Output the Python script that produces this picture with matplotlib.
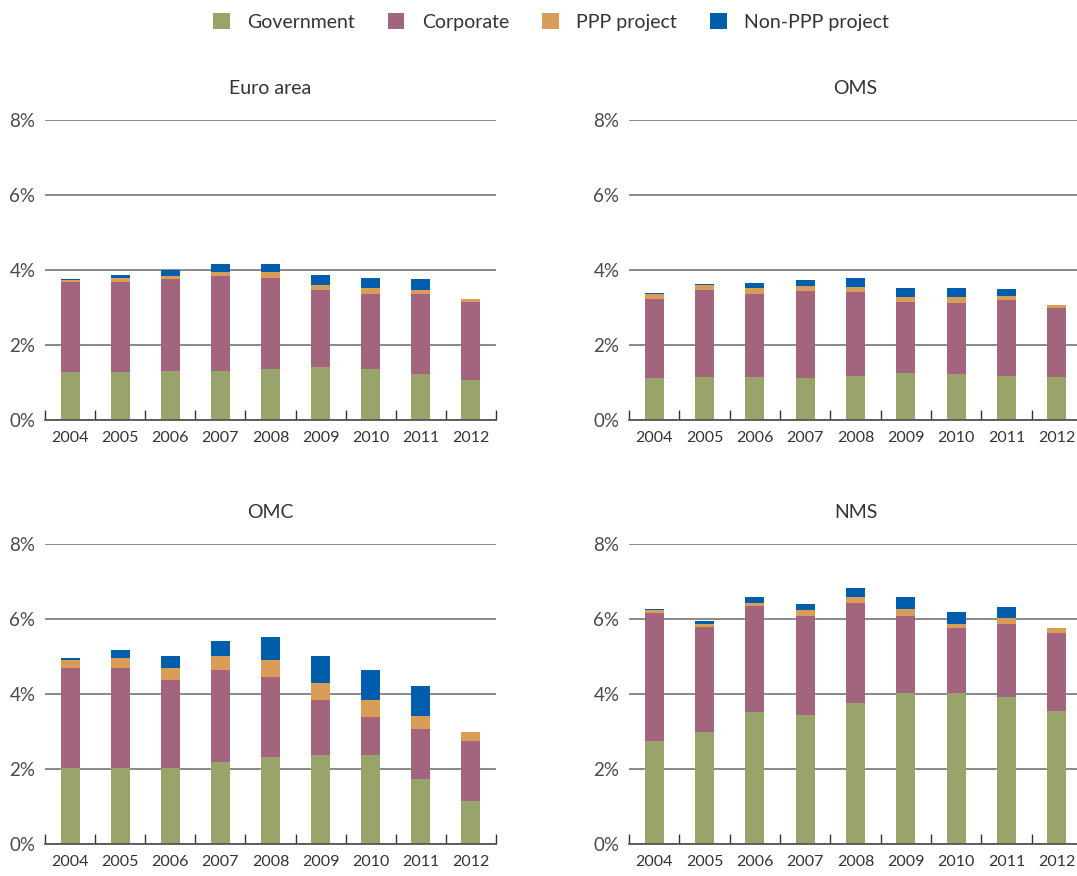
import matplotlib
matplotlib.use("Agg")
import matplotlib.pyplot as plt
import numpy as np
from matplotlib.patches import Patch
from matplotlib.ticker import FixedLocator

plt.rcParams['font.family'] = ['Lato', 'DejaVu Sans']

years = ["2004", "2005", "2006", "2007", "2008", "2009", "2010", "2011", "2012"]
series_names = ["Government", "Corporate", "PPP project", "Non-PPP project"]
colors = ["#98A46A", "#A3657D", "#D99D58", "#005EAD"]

euro_gov = [1.28, 1.28, 1.30, 1.30, 1.36, 1.41, 1.36, 1.22, 1.06]
euro_corp = [2.41, 2.41, 2.47, 2.55, 2.44, 2.07, 2.01, 2.13, 2.10]
euro_ppp = [0.05, 0.11, 0.08, 0.11, 0.16, 0.13, 0.14, 0.13, 0.08]
euro_non = [0.03, 0.06, 0.15, 0.19, 0.21, 0.27, 0.29, 0.27, 0.00]

oms_gov = [1.12, 1.14, 1.14, 1.12, 1.17, 1.25, 1.22, 1.17, 1.14]
oms_corp = [2.12, 2.34, 2.23, 2.33, 2.25, 1.91, 1.91, 2.02, 1.86]
oms_ppp = [0.11, 0.13, 0.16, 0.13, 0.14, 0.13, 0.14, 0.13, 0.08]
oms_non = [0.03, 0.03, 0.13, 0.16, 0.24, 0.24, 0.26, 0.18, 0.00]

omc_gov = [2.03, 2.03, 2.03, 2.19, 2.32, 2.37, 2.37, 1.73, 1.15]
omc_corp = [2.66, 2.66, 2.34, 2.45, 2.13, 1.47, 1.02, 1.34, 1.60]
omc_ppp = [0.22, 0.27, 0.32, 0.37, 0.46, 0.45, 0.45, 0.34, 0.24]
omc_non = [0.05, 0.21, 0.32, 0.40, 0.61, 0.72, 0.80, 0.80, 0.00]

nms_gov = [2.74, 3.00, 3.51, 3.43, 3.75, 4.02, 4.02, 3.91, 3.56]
nms_corp = [3.41, 2.78, 2.83, 2.64, 2.67, 2.05, 1.73, 1.97, 2.08]
nms_ppp = [0.08, 0.10, 0.10, 0.16, 0.16, 0.19, 0.13, 0.14, 0.11]
nms_non = [0.03, 0.08, 0.14, 0.16, 0.26, 0.34, 0.32, 0.29, 0.00]

panels = [
    ("Euro area", [euro_gov, euro_corp, euro_ppp, euro_non]),
    ("OMS", [oms_gov, oms_corp, oms_ppp, oms_non]),
    ("OMC", [omc_gov, omc_corp, omc_ppp, omc_non]),
    ("NMS", [nms_gov, nms_corp, nms_ppp, nms_non]),
]

W, H = 1077, 876
fig = plt.figure(figsize=(W / 100, H / 100), dpi=100)

# pixel rects: left, bottom(of 0%), width, height
rects = [
    (45, 420, 451, 300),
    (629, 420, 453, 300),
    (45, 844, 451, 300),
    (629, 844, 453, 300),
]

text_color = "#4a4a4a"
x = np.arange(len(years))
for (title, data), (l, b, w, h) in zip(panels, rects):
    ax = fig.add_axes([l / W, (H - b) / H, w / W, h / H])
    bottom = np.zeros(len(years))
    for vals, c in zip(data, colors):
        vals = np.array(vals)
        ax.bar(x, vals, width=0.38, bottom=bottom, color=c, linewidth=0, zorder=3)
        bottom += vals
    ax.set_xlim(-0.5, len(years) - 0.5)
    ax.set_ylim(0, 8)
    ax.set_yticks([0, 2, 4, 6, 8])
    ax.set_yticklabels(["0%", "2%", "4%", "6%", "8%"], fontsize=13.5, color=text_color)
    ax.set_xticks(x)
    ax.set_xticklabels(years, fontsize=11.5, color="#333333")
    ax.tick_params(axis='x', which='major', length=0, pad=8)
    ax.tick_params(axis='y', length=0, pad=7)
    ax.xaxis.set_minor_locator(FixedLocator(np.arange(-0.5, len(years), 1.0)))
    ax.tick_params(axis='x', which='minor', direction='in', length=7, width=1, color="#333333")
    for s in ["top", "right", "left"]:
        ax.spines[s].set_visible(False)
    ax.spines["bottom"].set_color("#555555")
    ax.spines["bottom"].set_linewidth(1.3)
    ax.spines["bottom"].set_zorder(4)
    ax.grid(axis='y', color="#808080", linewidth=1.3, zorder=0)
    ax.set_axisbelow(True)
    ax.set_title(title, fontsize=14, color="#333333", pad=19)

handles = [Patch(facecolor=c, edgecolor='none') for c in colors]
fig.legend(handles, series_names, loc='center', bbox_to_anchor=(551 / W, 1 - 22 / H),
           ncol=4, frameon=False, fontsize=14, handlelength=0.85, handleheight=0.85,
           columnspacing=1.7, handletextpad=0.9, labelcolor="#333333")

fig.savefig("out.png", dpi=100)
